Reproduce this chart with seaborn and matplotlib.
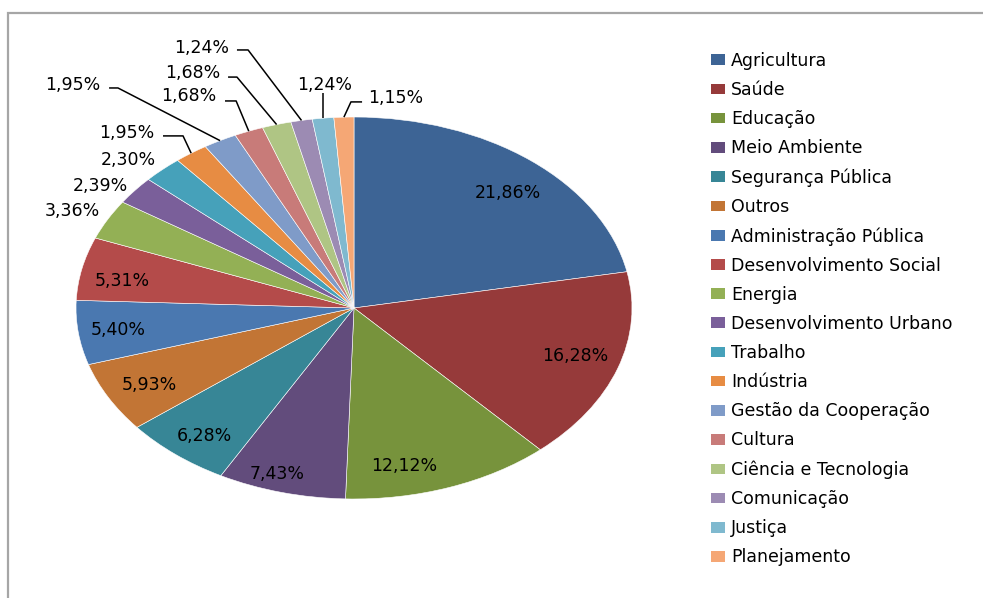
import os
import matplotlib
matplotlib.use("Agg")
import matplotlib.pyplot as plt
from matplotlib.patches import Rectangle
from matplotlib.font_manager import FontProperties
import numpy as np
import seaborn as sns

sns.set_theme(style="white")
plt.rcParams["font.family"] = ["DejaVu Sans"]
plt.rcParams["text.color"] = "black"

# Categories and shares (%)
categories = [
    "Agricultura", "Saúde", "Educação", "Meio Ambiente", "Segurança Pública",
    "Outros", "Administração Pública", "Desenvolvimento Social", "Energia",
    "Desenvolvimento Urbano", "Trabalho", "Indústria", "Gestão da Cooperação",
    "Cultura", "Ciência e Tecnologia", "Comunicação", "Justiça", "Planejamento",
]
shares = [21.86, 16.28, 12.12, 7.43, 6.28, 5.93, 5.40, 5.31, 3.36,
          2.39, 2.30, 1.95, 1.95, 1.68, 1.68, 1.24, 1.24, 1.15]

colors = ["#3D6495", "#963A3A", "#77933C", "#624C7C", "#378696", "#C27535",
          "#4A78B0", "#B44B4A", "#93B055", "#7A5F9A", "#46A1BA", "#E78C43",
          "#7F9BC8", "#C87B79", "#AFC584", "#9C8BB3", "#7FB9CF", "#F5A775"]

# Label placement (pie radius units): text centre, and for leader lines the
# horizontal segment (x_start, x_elbow, y) or a vertical drop ("v", y_top)
label_pos = [
    (0.554, 0.602), (0.795, -0.251), (0.180, -0.827), (-0.277, -0.869),
    (-0.540, -0.670), (-0.737, -0.403), (-0.849, -0.115), (-0.835, 0.141),
    (-1.014, 0.508), (-0.914, 0.639), (-0.813, 0.775), (-0.817, 0.916),
    (-1.010, 1.168), (-0.593, 1.110), (-0.579, 1.230), (-0.549, 1.361),
    (-0.104, 1.170), (0.151, 1.099),
]
leaders = {
    11: (-0.687, -0.615, 0.901),
    12: (-0.881, -0.849, 1.152),
    13: (-0.464, -0.424, 1.084),
    14: (-0.453, -0.421, 1.209),
    15: (-0.421, -0.381, 1.351),
    16: ("v", 1.126),
    17: (0.029, -0.011, 1.079),
}

fs = 12.5
font_file = os.path.join(matplotlib.get_data_path(), "fonts", "ttf", "DejaVuSans.ttf")
font = FontProperties(fname=font_file, size=fs)

W, H = 983, 598
fig = plt.figure(figsize=(W / 100, H / 100), dpi=100)
fig.patch.set_facecolor("white")

# outer chart frame
fig.patches.append(Rectangle((8 / W, -0.1), 1.2, 1 - 13 / H + 0.1,
                             transform=fig.transFigure, fill=False,
                             edgecolor="#A6A6A6", linewidth=1.6))

# elliptical pie: axes stretched so the unit circle becomes an ellipse
cx, cy, rx, ry = 354, 308, 278, 191
ax = fig.add_axes([(cx - rx) / W, (H - cy - ry) / H, 2 * rx / W, 2 * ry / H])
wedges, _ = ax.pie(shares, colors=colors, startangle=90, counterclock=False,
                   radius=1.0, wedgeprops=dict(edgecolor="white", linewidth=0.4))
ax.set_aspect("auto")
ax.set_xlim(-1, 1)
ax.set_ylim(-1, 1)
ax.axis("off")

total = sum(shares)
cum = 0.0
for i, v in enumerate(shares):
    mid = (cum + v / 2) / total * 2 * np.pi
    cum += v
    ex, ey = np.sin(mid), np.cos(mid)
    tx, ty = label_pos[i]
    txt = f"{v:.2f}".replace(".", ",") + "%"
    ax.text(tx, ty, txt, ha="center", va="center", fontproperties=font,
            color="black", clip_on=False)
    if i in leaders:
        seg = leaders[i]
        if seg[0] == "v":
            xs, ys = [ex, ex], [seg[1], ey]
        else:
            xs, ys = [seg[0], seg[1], ex], [seg[2], seg[2], ey]
        ax.plot(xs, ys, color="black", linewidth=1.1, clip_on=False,
                solid_capstyle="butt")

leg = fig.legend(wedges, categories, loc="upper left",
                 bbox_to_anchor=(711 / W, 1 - 52 / H), frameon=False,
                 prop=font, handlelength=0.81, handleheight=0.58,
                 handletextpad=0.33, labelspacing=0.64, borderpad=0,
                 borderaxespad=0, labelcolor="black")
for h in leg.legend_handles:
    h.set_edgecolor("none")

fig.savefig("out.png", dpi=100)
